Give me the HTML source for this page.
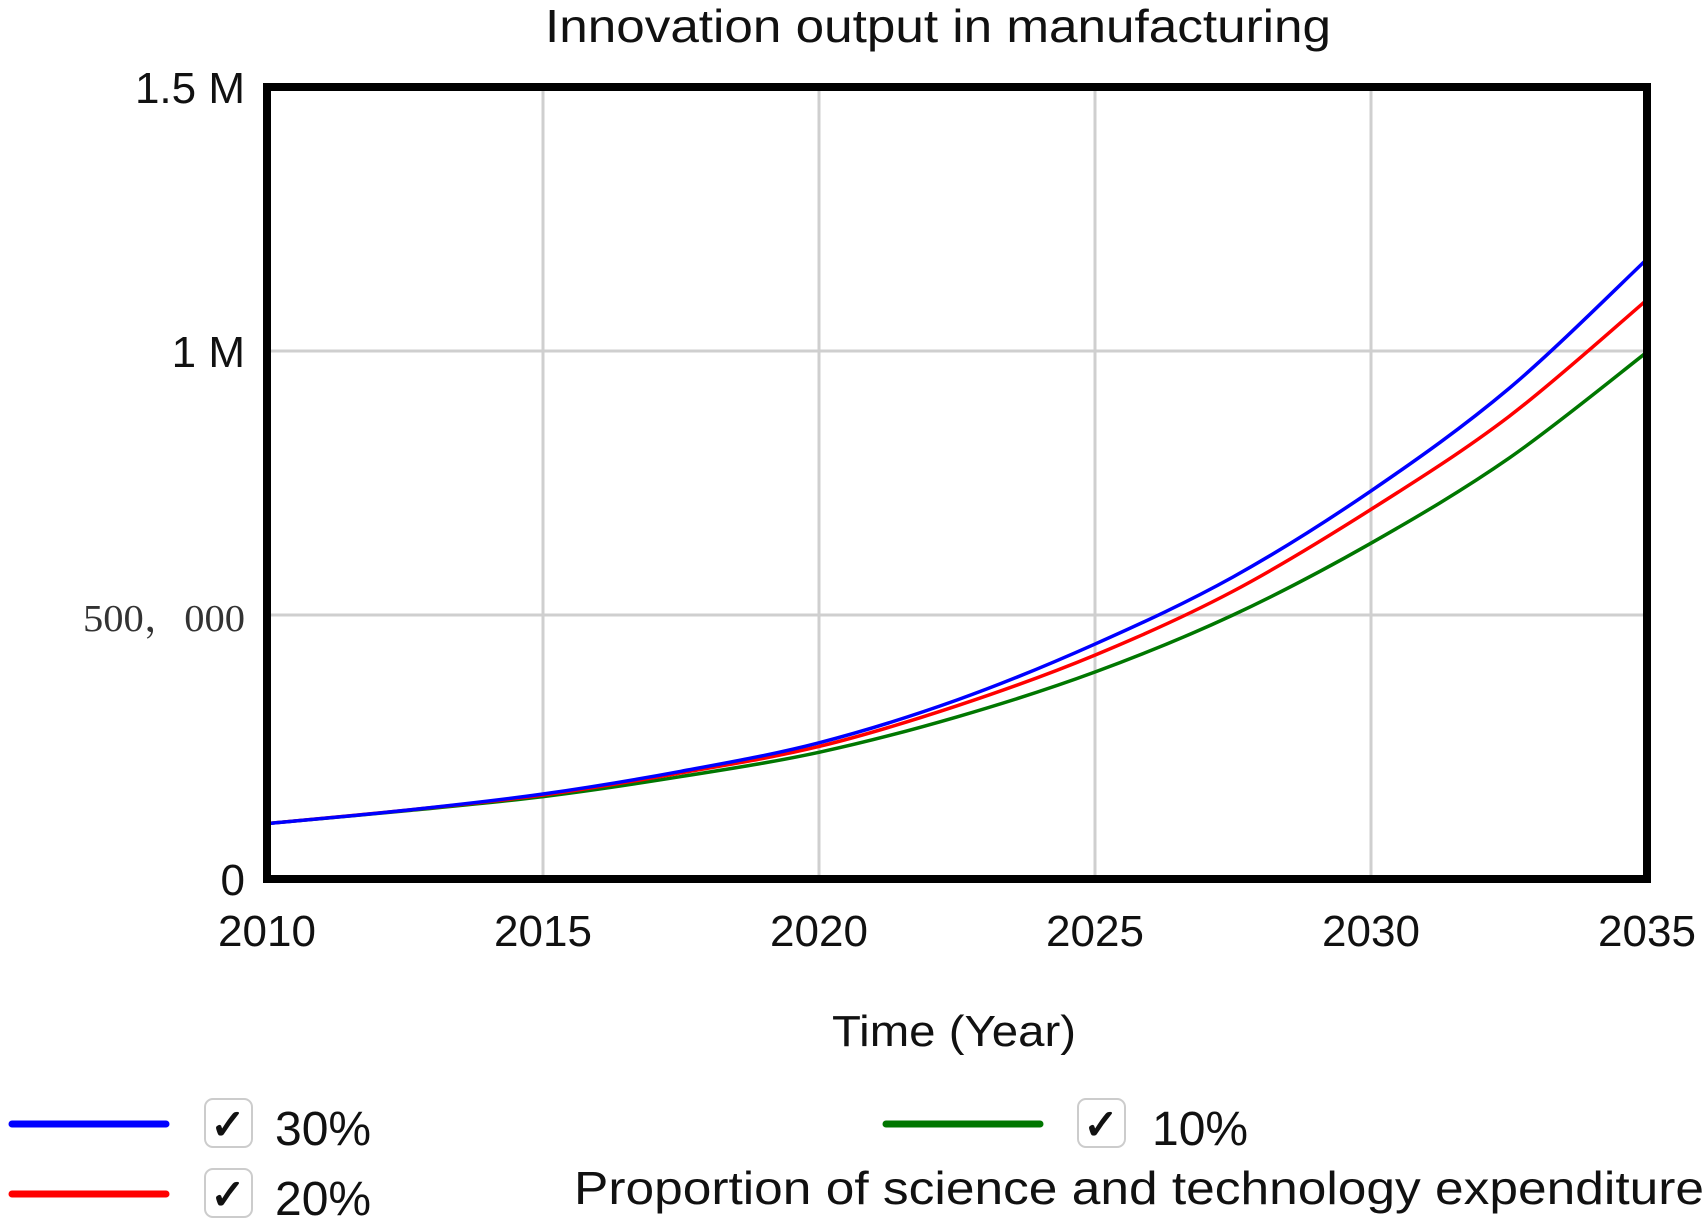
<!DOCTYPE html>
<html><head><meta charset="utf-8"><style>
html,body{margin:0;padding:0;background:#fff;width:1708px;height:1226px;overflow:hidden}
svg{display:block}
text{font-family:"Liberation Sans",Arial,sans-serif;fill:#111}
</style></head><body>
<svg id="chart" width="1708" height="1226" viewBox="0 0 1708 1226" xmlns="http://www.w3.org/2000/svg">
<text x="938" y="42" font-size="46" text-anchor="middle" textLength="786" lengthAdjust="spacingAndGlyphs">Innovation output in manufacturing</text>
<g id="grid"></g>
<g id="series"></g>
<rect x="267" y="87" width="1380" height="792" fill="none" stroke="#000" stroke-width="8"/>
<g id="ticks"></g>
<text x="954" y="1046" font-size="44" text-anchor="middle" textLength="244" lengthAdjust="spacingAndGlyphs">Time (Year)</text>
<g>
 <g>
  <line x1="12" y1="1124" x2="166" y2="1124" stroke="#0000ff" stroke-width="7" stroke-linecap="round"/>
  <rect x="205" y="1099" width="47" height="48" rx="8" fill="#fff" stroke="#ccc" stroke-width="2"/>
  <text x="228" y="1139" font-size="42" text-anchor="middle" font-weight="bold">✓</text>
  <text x="275" y="1145" font-size="48">30%</text>
 </g>
 <g>
  <line x1="12" y1="1194" x2="166" y2="1194" stroke="#ff0000" stroke-width="7" stroke-linecap="round"/>
  <rect x="205" y="1169" width="47" height="48" rx="8" fill="#fff" stroke="#ccc" stroke-width="2"/>
  <text x="228" y="1209" font-size="42" text-anchor="middle" font-weight="bold">✓</text>
  <text x="275" y="1215" font-size="48">20%</text>
 </g>
 <g>
  <line x1="886" y1="1124" x2="1040" y2="1124" stroke="#007700" stroke-width="7" stroke-linecap="round"/>
  <rect x="1078" y="1099" width="47" height="48" rx="8" fill="#fff" stroke="#ccc" stroke-width="2"/>
  <text x="1101" y="1139" font-size="42" text-anchor="middle" font-weight="bold">✓</text>
  <text x="1152" y="1145" font-size="48">10%</text>
 </g>
 <text x="574" y="1204" font-size="46" textLength="1130" lengthAdjust="spacingAndGlyphs">Proportion of science and technology expenditure</text>
</g>
</svg>
<script>
const years = [2010, 2012.5, 2015, 2017.5, 2020, 2022.5, 2025, 2027.5, 2030, 2032.5, 2035];
const s30 = [0.105, 0.130, 0.161, 0.204, 0.258, 0.339, 0.445, 0.572, 0.735, 0.929, 1.174];
const s20 = [0.105, 0.130, 0.159, 0.201, 0.251, 0.328, 0.424, 0.545, 0.700, 0.876, 1.097];
const s10 = [0.105, 0.129, 0.156, 0.194, 0.240, 0.307, 0.392, 0.500, 0.636, 0.797, 0.998];
const xTicks = [2010, 2015, 2020, 2025, 2030, 2035];
const yTicks = [0, 0.5, 1, 1.5];
const yTickLabels = ["0", "500，000", "1 M", "1.5 M"];
const seriesNames = ["30%", "20%", "10%"];

const X0=267,X1=1647,Y0=879,Y1=87;
const xs = v => X0 + (v-2010)/(2035-2010)*(X1-X0);
const ys = v => Y0 - v/1.5*(Y0-Y1);
const NS="http://www.w3.org/2000/svg";
const grid=document.getElementById('grid'), ticks=document.getElementById('ticks'), ser=document.getElementById('series');
function mk(tag,attrs,parent){const e=document.createElementNS(NS,tag);for(const k in attrs)e.setAttribute(k,attrs[k]);parent.appendChild(e);return e;}
xTicks.forEach(t=>{
  const l=mk('line',{x1:xs(t),x2:xs(t),y1:Y1,y2:Y0,stroke:'#cfcfcf','stroke-width':3},grid);
  
  
  const tx=mk('text',{x:xs(t),y:946,'font-size':44,'text-anchor':'middle'},ticks);
  tx.textContent=t;
  
  
});
yTicks.forEach((t,i)=>{
  const l=mk('line',{x1:X0,x2:X1,y1:ys(t),y2:ys(t),stroke:'#cfcfcf','stroke-width':3},grid);
  
  
  const serif = yTickLabels[i].indexOf('，')>=0;
  const tx=mk('text',{x:245,y:ys(t)+16,'font-size':serif?38:44,'text-anchor':'end'},ticks);
  if(serif){tx.setAttribute('style','font-family:"Liberation Serif","Noto Serif CJK SC",serif;fill:#333');tx.setAttribute('textLength','162');tx.setAttribute('lengthAdjust','spacingAndGlyphs');}
  tx.textContent=yTickLabels[i];
  
  
});
function pathFor(vals){
  const p=years.map((y,i)=>[xs(y),ys(vals[i])]);
  let d=`M${p[0][0]},${p[0][1]}`;
  for(let i=0;i<p.length-1;i++){
    const a=p[Math.max(i-1,0)],b=p[i],c=p[i+1],e=p[Math.min(i+2,p.length-1)];
    const c1=[b[0]+(c[0]-a[0])/6,b[1]+(c[1]-a[1])/6], c2=[c[0]-(e[0]-b[0])/6,c[1]-(e[1]-b[1])/6];
    d+=` C${c1[0]},${c1[1]} ${c2[0]},${c2[1]} ${c[0]},${c[1]}`;
  }
  return d;
}
[[s10,'#007700','line-10'],[s20,'#ff0000','line-20'],[s30,'#0000ff','line-30']].forEach(([v,c,n])=>{
  const p=mk('path',{d:pathFor(v),fill:'none',stroke:c,'stroke-width':3.5},ser);
  
  
});
</script>
</body></html>
